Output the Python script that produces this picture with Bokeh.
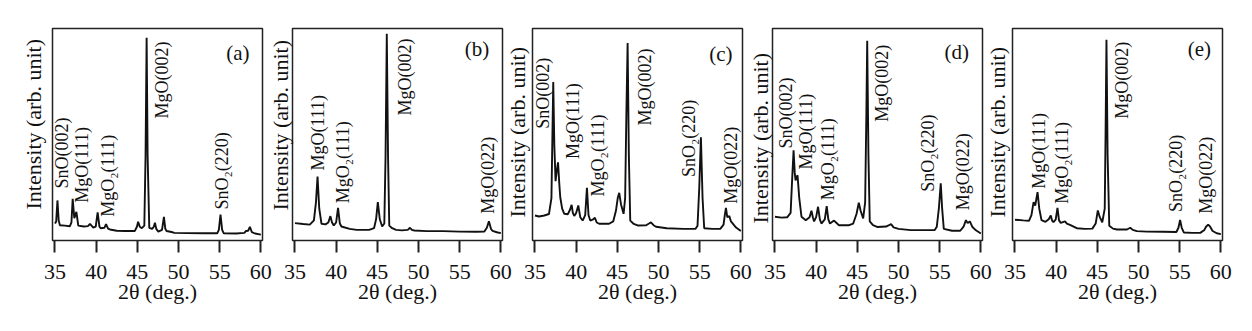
import math
from bokeh.plotting import figure
from bokeh.layouts import row
from bokeh.models import Label, FixedTicker, ColumnDataSource, Title
from bokeh.core.properties import value
from bokeh.embed import file_html
from bokeh.resources import INLINE

FONT = "Liberation Serif"

panel_tags = ["(a)", "(b)", "(c)", "(d)", "(e)"]
tick_values = [35, 40, 45, 50, 55, 60]
x_title = "2θ (deg.)"
y_title = "Intensity (arb. unit)"

# ---- panel (a) ----
a_2theta = [35.0, 35.15, 35.3, 35.45, 35.6, 36.2, 36.8, 37.0, 37.15, 37.35, 37.6, 37.83,
            38.5, 39.0, 39.25, 39.65, 39.95, 40.18, 40.4, 40.55, 41.0, 41.2, 41.45, 41.67,
            42.5, 43.5, 44.7, 44.95, 45.1, 45.3, 45.55, 45.85, 46.0, 46.13, 46.25, 46.45,
            46.8, 47.0, 47.14, 47.3, 47.55, 48.0, 48.23, 48.4, 48.55, 49.16, 49.5, 51.0,
            53.0, 54.7, 54.9, 55.1, 55.3, 55.5, 57.0, 58.0, 58.2, 58.45, 58.67, 58.9,
            59.3, 60.0]
a_intensity = [8.0, 9.0, 18.9, 9.5, 7.2, 7.0, 6.7, 8.5, 19.7, 10.5, 13.5, 7.0,
               6.6, 6.8, 7.8, 6.1, 6.5, 13.3, 6.5, 5.8, 6.0, 7.7, 5.6, 5.2,
               4.6, 4.5, 4.5, 6.5, 8.8, 6.5, 5.8, 7.0, 40.0, 95.6, 40.0, 6.0,
               5.5, 6.5, 8.4, 5.5, 4.2, 5.0, 11.1, 5.5, 4.5, 4.0, 3.6, 3.5,
               3.4, 3.4, 5.0, 12.2, 5.0, 3.4, 3.3, 3.6, 4.5, 4.6, 6.4, 4.0,
               3.3, 2.8]
a_peak_names = ["SnO(002)", "MgO(111)", "MgO\u2082(111)", "MgO(002)", "SnO\u2082(220)"]
a_peak_2theta = [35.8, 38.24, 41.47, 48.02, 55.23]
a_label_base = [24.5, 17.8, 11.2, 57.5, 14.6]

# ---- panel (b) ----
b_2theta = [35.0, 36.0, 36.8, 37.3, 37.55, 37.74, 37.95, 38.22, 38.7, 39.05, 39.3, 39.5,
            39.71, 40.0, 40.23, 40.45, 40.64, 41.64, 42.5, 44.0, 44.6, 44.85, 45.06, 45.3,
            45.59, 45.85, 46.0, 46.15, 46.3, 46.45, 46.8, 47.28, 48.0, 48.7, 48.97, 49.2,
            49.5, 51.0, 53.0, 55.0, 57.0, 58.0, 58.3, 58.55, 58.8, 59.0, 59.5, 60.0]
b_intensity = [8.2, 7.8, 7.5, 9.5, 18.0, 30.2, 15.0, 7.9, 7.6, 8.5, 11.5, 8.5,
               7.1, 8.5, 15.4, 8.0, 6.6, 5.5, 5.0, 5.0, 5.8, 10.0, 18.1, 10.0,
               6.6, 8.0, 40.0, 97.5, 40.0, 7.0, 5.8, 5.0, 4.8, 5.0, 6.0, 5.0,
               4.7, 4.4, 4.4, 4.2, 4.1, 4.2, 6.0, 9.1, 5.5, 4.5, 3.9, 3.5]
b_peak_names = ["MgO(111)", "MgO\u2082(111)", "MgO(002)", "MgO(022)"]
b_peak_2theta = [37.82, 40.83, 48.4, 58.47]
b_label_base = [33.0, 17.6, 59.0, 12.6]

# ---- panel (c) ----
c_2theta = [35.0, 35.5, 36.13, 36.7, 37.0, 37.12, 37.22, 37.35, 37.5, 37.65, 37.8, 37.95,
            38.07, 38.3, 38.56, 39.0, 39.25, 39.45, 39.6, 39.77, 40.0, 40.26, 40.5, 40.79,
            41.1, 41.31, 41.5, 41.71, 42.0, 42.28, 42.5, 42.8, 44.0, 44.5, 44.83, 45.05,
            45.23, 45.45, 45.76, 45.95, 46.1, 46.25, 46.4, 46.57, 47.0, 47.46, 48.5, 48.85,
            49.08, 49.4, 49.7, 51.0, 53.0, 54.5, 54.74, 54.95, 55.15, 55.35, 55.55, 56.5,
            57.5, 57.9, 58.05, 58.19, 58.35, 58.6, 58.8, 59.42, 60.0]
c_intensity = [11.8, 11.3, 11.8, 12.5, 20.0, 50.0, 74.7, 45.0, 28.0, 33.0, 36.9, 27.0,
               20.4, 15.0, 12.6, 12.4, 14.5, 16.8, 13.0, 11.6, 13.0, 16.5, 11.0, 9.4,
               12.0, 24.8, 12.0, 9.4, 9.8, 10.7, 8.5, 7.9, 7.9, 9.0, 14.0, 20.0,
               22.5, 17.0, 12.6, 20.0, 60.0, 93.1, 40.0, 9.4, 7.8, 7.1, 7.2, 8.0,
               8.6, 7.2, 6.5, 5.8, 5.5, 5.5, 7.0, 25.0, 48.7, 20.0, 5.8, 5.5,
               5.5, 7.5, 12.0, 15.4, 11.0, 11.5, 9.0, 6.1, 4.5]
c_peak_names = ["SnO(002)", "MgO(111)", "MgO\u2082(111)", "MgO(002)", "SnO\u2082(220)", "MgO(022)"]
c_peak_2theta = [36.0, 39.57, 42.6, 48.35, 53.73, 58.79]
c_label_base = [52.7, 38.5, 20.8, 54.2, 29.9, 17.3]

# ---- panel (d) ----
d_2theta = [35.0, 35.8, 36.5, 36.9, 37.1, 37.26, 37.4, 37.5, 37.74, 37.95, 38.22, 38.74,
            39.2, 39.43, 39.6, 39.75, 40.0, 40.23, 40.45, 40.64, 41.05, 41.28, 41.48, 41.68,
            42.17, 42.77, 44.0, 44.5, 44.9, 45.18, 45.4, 45.71, 45.95, 46.1, 46.2, 46.35,
            46.51, 46.9, 47.4, 48.5, 48.85, 49.1, 49.4, 50.0, 51.5, 53.0, 54.4, 54.65,
            54.9, 55.13, 55.3, 55.5, 56.5, 57.5, 57.9, 58.19, 58.4, 58.67, 58.95, 59.4,
            60.0]
d_intensity = [11.2, 10.8, 11.0, 13.0, 30.0, 42.6, 32.0, 28.4, 30.8, 20.0, 11.2, 9.6,
               11.0, 14.0, 11.0, 9.0, 11.0, 15.9, 10.0, 8.0, 10.0, 16.2, 10.0, 8.0,
               9.4, 7.2, 7.2, 8.0, 12.5, 17.8, 14.0, 10.4, 18.0, 60.0, 94.2, 40.0,
               9.0, 7.2, 6.4, 6.6, 7.2, 7.7, 6.2, 5.5, 4.9, 4.9, 4.9, 6.5,
               15.0, 27.0, 15.0, 5.5, 4.6, 4.6, 6.5, 9.6, 8.2, 9.0, 6.5, 4.8,
               3.3]
d_peak_names = ["SnO(002)", "MgO(111)", "MgO\u2082(111)", "MgO(002)", "SnO\u2082(220)", "MgO(022)"]
d_peak_2theta = [36.33, 38.74, 41.44, 48.0, 53.64, 57.87]
d_label_base = [43.4, 33.5, 19.0, 56.0, 23.0, 14.3]

# ---- panel (e) ----
e_2theta = [35.0, 36.0, 36.7, 37.0, 37.26, 37.46, 37.74, 37.95, 38.22, 38.7, 39.1, 39.35,
            39.5, 39.67, 39.95, 40.16, 40.35, 40.56, 41.08, 41.3, 41.68, 42.5, 43.5, 44.4,
            44.8, 45.06, 45.3, 45.6, 45.9, 46.0, 46.11, 46.25, 46.45, 46.9, 47.4, 48.6,
            49.0, 49.3, 49.8, 51.0, 53.0, 54.6, 54.85, 55.05, 55.25, 55.5, 56.5, 57.5,
            58.0, 58.2, 58.46, 58.7, 59.0, 59.5, 60.0]
e_intensity = [9.8, 9.5, 9.3, 12.0, 18.1, 16.5, 22.8, 15.0, 9.6, 8.8, 10.0, 11.8,
               9.5, 8.6, 10.0, 15.4, 9.5, 8.3, 9.0, 8.0, 7.4, 5.8, 5.5, 5.6,
               8.0, 14.2, 11.0, 8.6, 15.0, 50.0, 94.7, 40.0, 7.0, 5.6, 5.2, 5.2,
               6.0, 5.0, 4.4, 4.2, 4.1, 4.0, 6.0, 9.7, 6.0, 3.8, 3.6, 3.6,
               5.0, 6.5, 7.5, 6.5, 4.5, 3.4, 3.0]
e_peak_names = ["MgO(111)", "MgO\u2082(111)", "MgO(002)", "SnO\u2082(220)", "MgO(022)"]
e_peak_2theta = [37.94, 40.65, 48.0, 54.54, 58.17]
e_label_base = [24.4, 17.3, 57.4, 13.4, 12.6]

# panel tag positions (data coords)
tag_2theta = [57.2, 57.1, 57.57, 57.06, 57.4]
tag_height = [88.4, 90.3, 88.0, 88.9, 90.3]


def make_panel(tag, tt, inten, names, nx, ny, tx, ty, ylab_offset, ylab_standoff,
               top, left, right, shift):
    frame_h = 212
    p = figure(frame_width=210, frame_height=frame_h, x_range=(34.7, 60.2), y_range=(0, 100),
               min_border_left=left, min_border_right=right, min_border_top=top,
               min_border_bottom=331 - top - frame_h, y_axis_location=None,
               toolbar_location=None, output_backend="svg")
    p.grid.visible = False
    p.background_fill_color = "white"
    p.border_fill_color = None
    p.outline_line_color = "#222222"
    p.outline_line_width = 1.5
    if shift:
        p.margin = (0, 0, 0, shift)
    ax = p.xaxis[0]
    ax.ticker = FixedTicker(ticks=tick_values)
    ax.axis_line_color = None
    ax.major_tick_in = 0
    ax.major_tick_out = 12
    ax.major_tick_line_width = 2
    ax.major_tick_line_color = "#222222"
    ax.minor_tick_line_color = None
    ax.major_label_text_font = FONT
    ax.major_label_text_font_size = "22px"
    ax.major_label_text_color = "#111111"
    ax.major_label_standoff = 12
    ax.axis_label = x_title
    ax.axis_label_text_font = FONT
    ax.axis_label_text_font_size = "22px"
    ax.axis_label_text_font_style = "normal"
    ax.axis_label_text_color = "#111111"
    ax.axis_label_standoff = -3

    p.line(tt, inten, line_color="#111111", line_width=1.9)

    src = ColumnDataSource(dict(x=nx, y=ny, t=names))
    p.text("x", "y", "t", source=src, angle=math.pi / 2, text_align="left",
           text_baseline="middle", text_font=value(FONT), text_font_size="18px",
           text_color="#111111")

    p.add_layout(Label(x=tx, y=ty, text=tag, text_align="center", text_baseline="middle",
                       text_font=FONT, text_font_size="21px", text_color="#111111"))
    p.add_layout(Title(text=y_title, align="left", offset=ylab_offset,
                       standoff=ylab_standoff, text_font=FONT, text_font_size="22px",
                       text_font_style="normal", text_color="#111111"), "left")
    return p


panels = [
    make_panel(panel_tags[0], a_2theta, a_intensity, a_peak_names, a_peak_2theta, a_label_base,
               tag_2theta[0], tag_height[0], 31, 14, 24, 52, 12, 0),
    make_panel(panel_tags[1], b_2theta, b_intensity, b_peak_names, b_peak_2theta, b_label_base,
               tag_2theta[1], tag_height[1], 30, 0, 28, 42, 12, -24),
    make_panel(panel_tags[2], c_2theta, c_intensity, c_peak_names, c_peak_2theta, c_label_base,
               tag_2theta[2], tag_height[2], 23, 6, 28, 42, 12, -24),
    make_panel(panel_tags[3], d_2theta, d_intensity, d_peak_names, d_peak_2theta, d_label_base,
               tag_2theta[3], tag_height[3], 17, 0, 25, 42, 12, -24),
    make_panel(panel_tags[4], e_2theta, e_intensity, e_peak_names, e_peak_2theta, e_label_base,
               tag_2theta[4], tag_height[4], 23, 6, 28, 42, 12, -24),
]

layout = row(*panels, spacing=0)
open("out.html", "w").write(file_html(layout, INLINE))
